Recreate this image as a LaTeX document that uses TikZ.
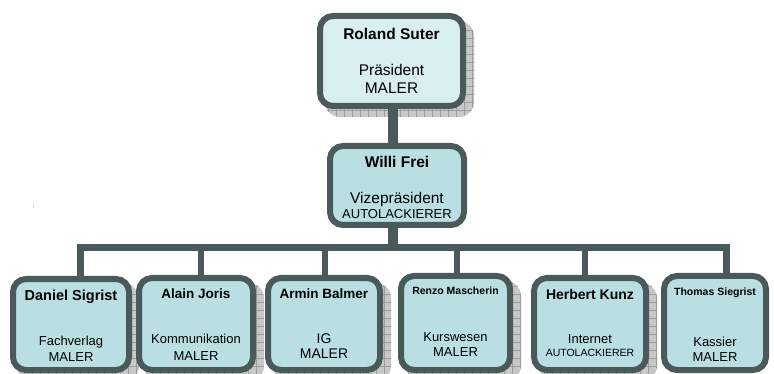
\documentclass[tikz,border=0pt]{standalone}
\usepackage{fontspec}
\setmainfont{Liberation Sans}
\usetikzlibrary{patterns.meta,backgrounds}
\definecolor{bordc}{HTML}{4A5A5A}
\definecolor{fillA}{HTML}{D9EEF0}
\definecolor{fillB}{HTML}{B9DFE3}
\definecolor{shadc}{HTML}{C8C8C8}
\definecolor{gridc}{HTML}{9C9C9C}
\begin{document}
\begin{tikzpicture}[x=1pt,y=-1pt,
  box/.style 2 args={draw=bordc, line width=6pt, rounded corners=13pt, fill=fillB,
    minimum width=#1pt, minimum height=#2pt, inner sep=0pt},
  shad/.style 2 args={preaction={fill=shadc}, pattern={Hatch[angle=0,distance=8pt,line width=0.5pt]},
    pattern color=gridc, rounded corners=15pt, minimum width=#1pt, minimum height=#2pt, inner sep=0pt},
  conn/.style={draw=bordc, line width=7pt},
  nm/.style={font=\bfseries\fontsize{#1}{#1}\selectfont, inner sep=0pt},
  rl/.style={font=\fontsize{#1}{#1}\selectfont, inner sep=0pt}]
\useasboundingbox (0,0) rectangle (774,374);

% shadows
\begin{scope}[on background layer]
\fill[white] (0,0) rectangle (774,374);
\node[shad={149}{96}] (rs-sh) at (399.5,69) {};
\node[shad={122}{97}] (ds-sh) at (78,332.5) {};
\node[shad={120}{98}] (aj-sh) at (204,332) {};
\node[shad={118}{98}] (ab-sh) at (332,332) {};
\node[shad={115}{100}] (rm-sh) at (463.5,331) {};
\node[shad={118}{98}] (hk-sh) at (598,332) {};
\end{scope}

% boxes
\node[box={143}{90}, fill=fillA] (rs) at (391.5,61) {};
\node[box={134}{79}] (wf) at (397,185.5) {};
\node[box={116}{91}] (ds) at (71,324.5) {};
\node[box={114}{92}] (aj) at (196,324) {};
\node[box={112}{92}] (ab) at (324,324) {};
\node[box={109}{94}] (rm) at (455.5,323) {};
\node[box={112}{92}] (hk) at (590,324) {};
\node[box={102}{94}] (ts) at (715,323) {};

% texts
\node[nm=15.5] (rs-n) at (391.5,34) {Roland Suter};
\node[rl=15.5] (rs-a) at (391.5,70) {Präsident};
\node[rl=15.5] (rs-b) at (391.5,88) {MALER};

\node[nm=15.5] (wf-n) at (397,162) {Willi Frei};
\node[rl=15.5] (wf-a) at (397,199) {Vizepräsident};
\node[rl=13] (wf-b) at (397,214) {AUTOLACKIERER};

\node[nm=14.5] (ds-n) at (71,297) {Daniel Sigrist};
\node[rl=13] (ds-a) at (71,342) {Fachverlag};
\node[rl=13] (ds-b) at (71,357) {MALER};

\node[nm=13.5] (aj-n) at (196,294) {Alain Joris};
\node[rl=13] (aj-a) at (196,339) {Kommunikation};
\node[rl=13] (aj-b) at (196,356) {MALER};

\node[nm=13.5] (ab-n) at (324,294) {Armin Balmer};
\node[rl=14] (ab-a) at (324,339) {IG};
\node[rl=14] (ab-b) at (324,354) {MALER};

\node[nm=10.5] (rm-n) at (455.5,291) {Renzo Mascherin};
\node[rl=13] (rm-a) at (455.5,337) {Kurswesen};
\node[rl=13] (rm-b) at (455.5,352) {MALER};

\node[nm=14] (hk-n) at (590,294) {Herbert Kunz};
\node[rl=13] (hk-a) at (590,339) {Internet};
\node[rl=10.5] (hk-b) at (590,353) {AUTOLACKIERER};

\node[nm=10.5] (ts-n) at (715,293) {Thomas Siegrist};
\node[rl=13] (ts-a) at (715,342) {Kassier};
\node[rl=13] (ts-b) at (715,357) {MALER};

% connectors
\coordinate (bj) at (393,248);
\begin{scope}[on background layer]
\draw[conn, line width=10pt] (bj |- rs.south) -- (bj |- wf.north);
\draw[conn, line width=10pt] (bj |- wf.south) -- (bj);
\draw[conn, line width=7pt] ([xshift=9pt]ds.north) |- (bj) -| ([xshift=11pt]ts.north);
\draw[conn, line width=6.5pt] ([xshift=5pt]aj.north) -- ([xshift=5pt]aj.north |- bj);
\draw[conn, line width=6.5pt] ([xshift=1pt]ab.north) -- ([xshift=1pt]ab.north |- bj);
\draw[conn, line width=6.5pt] ([xshift=1.5pt]rm.north) -- ([xshift=1.5pt]rm.north |- bj);
\draw[conn, line width=6.5pt] ([xshift=-5pt]hk.north) -- ([xshift=-5pt]hk.north |- bj);
\end{scope}
\draw[gray!25, line width=1pt] (33,203) -- (33,208);
\end{tikzpicture}
\end{document}
